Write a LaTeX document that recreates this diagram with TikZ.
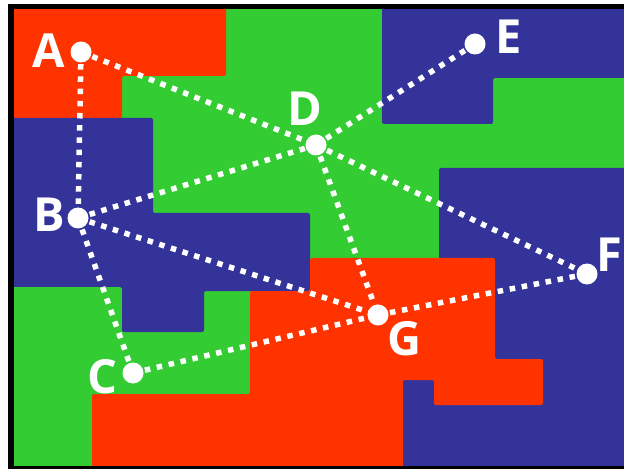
\documentclass[tikz,border=0pt]{standalone}
\usepackage{fontspec}
\setmainfont{Open Sans}
\definecolor{mred}{RGB}{255,51,0}
\definecolor{mgreen}{RGB}{51,204,51}
\definecolor{mblue}{RGB}{51,51,153}
\begin{document}
\begin{tikzpicture}[x=1bp,y=-1bp,
  vert/.style={circle,fill=white,minimum size=21bp,inner sep=0pt},
  lab/.style={text=white,font=\fontsize{47bp}{50bp}\selectfont\bfseries,inner sep=0pt},
  link/.style={white,line width=5.5bp,dash pattern=on 5.5bp off 6.7bp},
  region/.style={rounded corners=2bp}]
\useasboundingbox (0,0) rectangle (624,469);
\fill[black] (8,4) rectangle (624,469);
\begin{scope}
\clip (14,10) rectangle (624,465);
\fill[mgreen] (0,0) rectangle (630,470);
\fill[mred,region] (0,0) -- (226,0) -- (226,76) -- (122,76) -- (122,118) -- (0,118) -- cycle;
\fill[mblue,region] (0,118) -- (153,118) -- (153,213) -- (310,213) -- (310,291) -- (204,291) -- (204,332) -- (122,332) -- (122,287) -- (0,287) -- cycle;
\fill[mblue,region] (382,0) -- (630,0) -- (630,78) -- (493,78) -- (493,124) -- (382,124) -- cycle;
\fill[mblue,region] (439,168) -- (630,168) -- (630,470) -- (403,470) -- (403,370) -- (439,370) -- cycle;
\fill[mred,region] (92,470) -- (92,394) -- (250,394) -- (250,291) -- (310,291) -- (310,258) -- (495,258) -- (495,359) -- (543,359) -- (543,405) -- (434,405) -- (434,380) -- (403,380) -- (403,470) -- cycle;
\end{scope}
\coordinate (a) at (81,52);
\coordinate (b) at (78,218);
\coordinate (c) at (133,373);
\coordinate (d) at (316,145);
\coordinate (e) at (475,44);
\coordinate (f) at (587,274);
\coordinate (g) at (378,315);
\draw[link] (a) -- (b);
\draw[link] (a) -- (d);
\draw[link] (b) -- (d);
\draw[link] (b) -- (g);
\draw[link] (b) -- (c);
\draw[link] (c) -- (g);
\draw[link] (d) -- (e);
\draw[link] (d) -- (g);
\draw[link] (d) -- (f);
\draw[link] (g) -- (f);
\node[vert] (A) at (a) {};
\node[vert] (B) at (b) {};
\node[vert] (C) at (c) {};
\node[vert] (D) at (d) {};
\node[vert] (E) at (e) {};
\node[vert] (F) at (f) {};
\node[vert] (G) at (g) {};
\node[lab] (lA) at (49,51) {A};
\node[lab] (lB) at (49,215) {B};
\node[lab] (lC) at (102,377) {C};
\node[lab] (lD) at (305,109) {D};
\node[lab] (lE) at (509,37) {E};
\node[lab] (lF) at (609,255) {F};
\node[lab] (lG) at (405,339) {G};
\end{tikzpicture}
\end{document}
